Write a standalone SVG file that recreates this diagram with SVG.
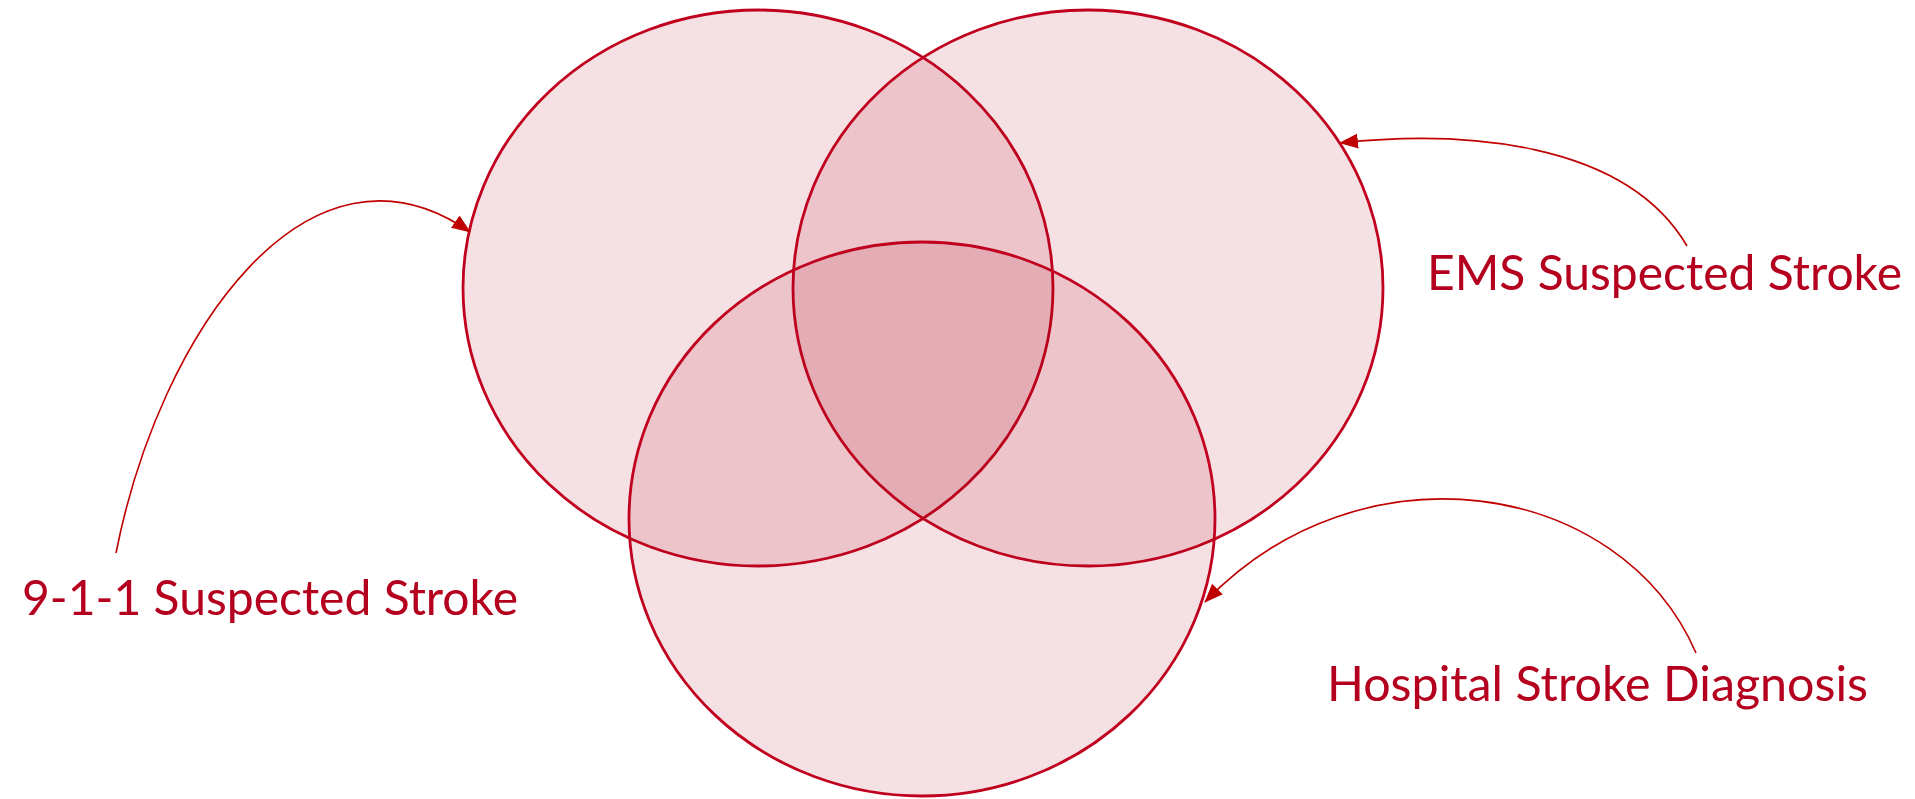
<svg xmlns="http://www.w3.org/2000/svg" width="1915" height="799" viewBox="0 0 1915 799">
<style>
.set{fill:rgb(175,0,25);fill-opacity:0.12;stroke:#C0001E;stroke-width:2.8}
.lbl{font-family:Lato,"Liberation Sans",sans-serif;font-size:49px;fill:#B4001E}
.conn{fill:none;stroke:#C00000;stroke-width:1.6}
</style>
<defs>
<marker id="arr" markerUnits="userSpaceOnUse" markerWidth="19" markerHeight="15" refX="18" refY="7.5" orient="auto">
<path d="M0,0 L19,7.5 L0,15 Z" fill="#C00000"/>
</marker>
</defs>
<rect width="1915" height="799" fill="#FFFFFF"/>
<g id="set-911"><ellipse class="set" cx="758" cy="288" rx="295" ry="278"/></g>
<g id="set-ems"><ellipse class="set" cx="1088" cy="288" rx="295" ry="278"/></g>
<g id="set-hospital"><ellipse class="set" cx="922" cy="519" rx="293" ry="277"/></g>
<g id="connectors">
<path class="conn" d="M116,553 C160,330 310,120 470,232" marker-end="url(#arr)"/>
<path class="conn" d="M1687,246 C1625,140 1460,130 1340,143" marker-end="url(#arr)"/>
<path class="conn" d="M1696,653 C1620,478 1360,440 1205,602" marker-end="url(#arr)"/>
</g>
<g id="label-911"><text class="lbl" x="22" y="615" textLength="496" lengthAdjust="spacingAndGlyphs">9-1-1 Suspected Stroke</text></g>
<g id="label-ems"><text class="lbl" x="1427" y="290" textLength="475" lengthAdjust="spacingAndGlyphs">EMS Suspected Stroke</text></g>
<g id="label-hospital"><text class="lbl" x="1327" y="701" textLength="541" lengthAdjust="spacingAndGlyphs">Hospital Stroke Diagnosis</text></g>
</svg>
